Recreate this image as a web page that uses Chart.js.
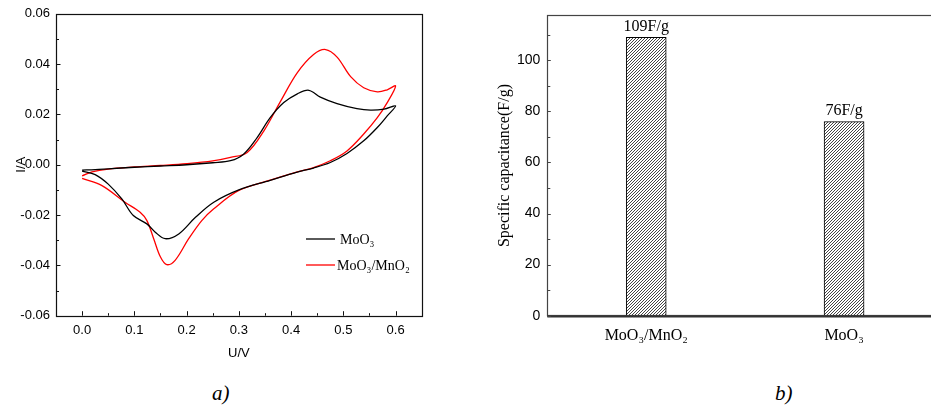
<!DOCTYPE html>
<html>
<head>
<meta charset="utf-8">
<script src="https://cdn.jsdelivr.net/npm/chart.js@4/dist/chart.umd.min.js"></script>
<style>
html,body{margin:0;padding:0;background:#fff;overflow:hidden;width:931px;height:410px;position:relative;}
#wrapA{position:absolute;left:0;top:0;width:440px;height:370px;}
#wrapB{position:absolute;left:440px;top:0;width:520px;height:370px;}
.cap{position:absolute;font-family:"Liberation Serif","Times New Roman",serif;font-style:italic;font-size:21px;color:#000;line-height:24px;}
</style>
</head>
<body>
<div id="wrapA"><canvas id="cA" width="440" height="370"></canvas></div>
<div id="wrapB"><canvas id="cB" width="520" height="370"></canvas></div>
<div class="cap" style="left:212px;top:381px">a)</div>
<div class="cap" style="left:775px;top:381px">b)</div>
<script>
// ---------- DATA ----------
// Panel a: cyclic voltammetry loops (forward scan then reverse scan)
const moo3Voltage = [0, 0.025, 0.05, 0.1, 0.15, 0.2, 0.25, 0.284, 0.309, 0.335, 0.36, 0.386, 0.412, 0.434, 0.456, 0.488, 0.526, 0.552, 0.578, 0.6,
  0.584, 0.565, 0.539, 0.507, 0.475, 0.443, 0.41, 0.36, 0.3, 0.252, 0.217, 0.185, 0.159, 0.14, 0.124, 0.098, 0.076, 0.05, 0.025, 0];
const moo3Current = [-0.0021, -0.0019, -0.0016, -0.0010, -0.0005, 0.0000, 0.0008, 0.0016, 0.0042, 0.0108, 0.0187, 0.0247, 0.0282, 0.0296, 0.0269, 0.0243, 0.0223, 0.0217, 0.0221, 0.0234,
  0.0194, 0.0148, 0.0095, 0.0045, 0.0009, -0.0013, -0.0030, -0.0062, -0.0100, -0.0149, -0.0209, -0.0275, -0.0294, -0.0268, -0.0235, -0.0202, -0.0136, -0.0077, -0.0039, -0.0025];
const compositeVoltage = [0, 0.019, 0.05, 0.1, 0.15, 0.2, 0.25, 0.284, 0.316, 0.348, 0.38, 0.412, 0.443, 0.466, 0.488, 0.514, 0.539, 0.565, 0.584, 0.6,
  0.584, 0.565, 0.539, 0.507, 0.475, 0.443, 0.412, 0.36, 0.3, 0.252, 0.229, 0.204, 0.178, 0.162, 0.15, 0.137, 0.124, 0.111, 0.082, 0.038, 0];
const compositeCurrent = [-0.0044, -0.0028, -0.0017, -0.0009, -0.0003, 0.0004, 0.0015, 0.0029, 0.0049, 0.0135, 0.0253, 0.0366, 0.0438, 0.0458, 0.0428, 0.0350, 0.0306, 0.0290, 0.0298, 0.0313,
  0.0247, 0.0187, 0.0122, 0.0055, 0.0016, -0.0011, -0.0028, -0.0061, -0.0102, -0.0175, -0.0222, -0.0294, -0.0380, -0.0397, -0.0367, -0.0294, -0.0222, -0.0189, -0.0149, -0.0083, -0.0054];
const seriesNames = ['MoO\u2083', 'MoO\u2083/MnO\u2082'];
const cvXTicks = [0, 0.1, 0.2, 0.3, 0.4, 0.5, 0.6];
const cvYTicks = [-0.06, -0.04, -0.02, 0, 0.02, 0.04, 0.06];

// Panel b: specific capacitance
const barCategories = ['MoO\u2083/MnO\u2082', 'MoO\u2083'];
const capacitanceValues = [109, 76];
const capacitanceLabels = ['109F/g', '76F/g'];
const barYTicks = [0, 20, 40, 60, 80, 100];

// ---------- STYLE ----------
const SANS = '"Liberation Sans", Arial, sans-serif';
const SERIF = '"Liberation Serif", "Times New Roman", serif';

function toPoints(xs, ys) { return xs.map((x, i) => ({x: x, y: ys[i]})); }

// frame + inward ticks plugin
const framePlugin = {
  id: 'framePlugin',
  afterDatasetsDraw(chart, args, opts) {
    const {ctx, chartArea: a} = chart;
    ctx.save();
    ctx.strokeStyle = opts.color;
    ctx.lineWidth = opts.width;
    ctx.strokeRect(Math.round(a.left) + 0.5, Math.round(a.top) + 0.5, Math.round(a.right - a.left), Math.round(a.bottom - a.top));
    if (opts.bottomWidth) {
      ctx.lineWidth = opts.bottomWidth;
      ctx.strokeStyle = opts.bottomColor;
      ctx.beginPath();
      ctx.moveTo(a.left, Math.round(a.bottom) + 0.5);
      ctx.lineTo(a.right, Math.round(a.bottom) + 0.5);
      ctx.stroke();
    }
    ctx.strokeStyle = opts.color;
    ctx.lineWidth = 1;
    for (const ax of opts.axes) {
      const sc = chart.scales[ax.id];
      const vals = sc.ticks.map(t => t.value);
      const minors = [];
      for (let i = 0; i < vals.length - 1; i++) minors.push((vals[i] + vals[i + 1]) / 2);
      if (vals.length > 1) {
        const st = vals[1] - vals[0];
        const lo = vals[0] - st / 2, hi = vals[vals.length - 1] + st / 2;
        if (lo > sc.min + st * 0.05) minors.push(lo);
        if (hi < sc.max - st * 0.05) minors.push(hi);
      }
      const draw = (v, len) => {
        const p = Math.round(sc.getPixelForValue(v)) + 0.5;
        ctx.beginPath();
        if (ax.dir === 'y') { ctx.moveTo(a.left, p); ctx.lineTo(a.left + len, p); }
        else { ctx.moveTo(p, a.bottom); ctx.lineTo(p, a.bottom - len); }
        ctx.stroke();
      };
      vals.forEach(v => draw(v, ax.major));
      minors.forEach(v => draw(v, ax.minor));
    }
    ctx.restore();
  }
};

// legend for panel a
const cvLegend = {
  id: 'cvLegend',
  afterDraw(chart, args, opts) {
    const {ctx} = chart;
    ctx.save();
    chart.data.datasets.forEach((ds, i) => {
      const y = opts.y + i * opts.gap;
      ctx.strokeStyle = ds.borderColor;
      ctx.lineWidth = 1.3;
      ctx.beginPath();
      ctx.moveTo(opts.x, y);
      ctx.lineTo(opts.x + opts.len, y);
      ctx.stroke();
      ctx.fillStyle = '#000';
      ctx.font = '14px ' + SERIF;
      ctx.textBaseline = 'middle';
      ctx.textAlign = 'left';
      ctx.fillText(ds.label, opts.x + opts.len + opts.textGap[i], y + 1);
    });
    ctx.restore();
  }
};

// value labels for panel b
const barValueLabels = {
  id: 'barValueLabels',
  afterDatasetsDraw(chart) {
    const {ctx} = chart;
    const meta = chart.getDatasetMeta(0);
    ctx.save();
    ctx.fillStyle = '#000';
    ctx.font = '16px ' + SERIF;
    ctx.textAlign = 'center';
    ctx.textBaseline = 'middle';
    meta.data.forEach((bar, i) => {
      ctx.fillText(capacitanceLabels[i], bar.x, bar.y - 11);
    });
    ctx.restore();
  }
};

function hatchPattern() {
  const s = 3;
  const c = document.createElement('canvas');
  c.width = s; c.height = s;
  const g = c.getContext('2d');
  g.fillStyle = '#ffffff';
  g.fillRect(0, 0, s, s);
  g.strokeStyle = '#303030';
  g.lineWidth = 0.9;
  g.beginPath();
  g.moveTo(-1, s + 1); g.lineTo(s + 1, -1);
  g.moveTo(-1, 1); g.lineTo(1, -1);
  g.moveTo(s - 1, s + 1); g.lineTo(s + 1, s - 1);
  g.stroke();
  return g.createPattern(c, 'repeat');
}

// ---------- PANEL A ----------
new Chart(document.getElementById('cA'), {
  type: 'scatter',
  data: {
    datasets: [
      {label: seriesNames[0], data: toPoints(moo3Voltage, moo3Current), borderColor: '#000000', backgroundColor: '#000000'},
      {label: seriesNames[1], data: toPoints(compositeVoltage, compositeCurrent), borderColor: '#ff0000', backgroundColor: '#ff0000'}
    ]
  },
  options: {
    responsive: false,
    animation: false,
    showLine: true,
    elements: {
      point: {radius: 0, hoverRadius: 0},
      line: {borderWidth: 1.3, tension: 0.35, fill: false}
    },
    layout: {padding: {left: 0, right: 18.3, top: 12.7, bottom: 0}},
    plugins: {
      legend: {display: false},
      tooltip: {enabled: false},
      framePlugin: {color: '#111', width: 1.2, axes: [
        {id: 'x', dir: 'x', major: 4.5, minor: 2.5},
        {id: 'y', dir: 'y', major: 4.5, minor: 3}
      ]},
      cvLegend: {x: 306, y: 239, gap: 26, len: 29, textGap: [5, 2]}
    },
    scales: {
      x: {
        type: 'linear', min: -0.05, max: 0.65,
        afterBuildTicks: s => { s.ticks = cvXTicks.map(v => ({value: v})); },
        afterFit: s => { s.height = 54.3; },
        grid: {display: false, drawTicks: false},
        border: {display: false},
        ticks: {callback: v => Number(v).toFixed(1), color: '#000', font: {family: SANS, size: 13}, padding: 7, maxRotation: 0, autoSkip: false},
        title: {display: true, text: 'U/V', color: '#000', font: {family: SANS, size: 13}, padding: {top: 0, bottom: 9}}
      },
      y: {
        type: 'linear', min: -0.06, max: 0.06,
        afterBuildTicks: s => { s.ticks = cvYTicks.map(v => ({value: v})); },
        afterFit: s => { s.width = 56; },
        grid: {display: false, drawTicks: false},
        border: {display: false},
        ticks: {callback: v => Number(v).toFixed(2), color: '#000', font: {family: SANS, size: 13}, padding: 6, autoSkip: false},
        title: {display: true, text: 'I/A', color: '#000', font: {family: SANS, size: 13}, padding: {top: 14, bottom: 0}}
      }
    }
  },
  plugins: [framePlugin, cvLegend]
});

// ---------- PANEL B ----------
new Chart(document.getElementById('cB'), {
  type: 'bar',
  data: {
    labels: barCategories,
    datasets: [{
      label: 'Specific capacitance',
      data: capacitanceValues,
      backgroundColor: hatchPattern(),
      borderColor: '#000000',
      borderWidth: 1,
      borderSkipped: false,
      barThickness: 40
    }]
  },
  options: {
    responsive: false,
    animation: false,
    layout: {padding: {left: 0, right: 17, top: 12.7, bottom: 0}},
    plugins: {
      legend: {display: false},
      tooltip: {enabled: false},
      framePlugin: {color: '#444', width: 1.2, bottomWidth: 2, bottomColor: '#333', axes: [
        {id: 'y', dir: 'y', major: 3.5, minor: 3}
      ]}
    },
    scales: {
      x: {
        type: 'category', offset: true,
        afterFit: s => { s.height = 54.3; },
        grid: {display: false, drawTicks: false},
        border: {display: false},
        ticks: {color: '#000', font: {family: SERIF, size: 16}, padding: 10, maxRotation: 0, autoSkip: false}
      },
      y: {
        type: 'linear', min: 0, max: 117.6,
        afterBuildTicks: s => { s.ticks = barYTicks.map(v => ({value: v})); },
        afterFit: s => { s.width = 107.3; },
        grid: {display: false, drawTicks: false},
        border: {display: false},
        ticks: {color: '#000', font: {family: SANS, size: 14}, padding: 7, autoSkip: false},
        title: {display: true, text: 'Specific capacitance(F/g)', color: '#000', font: {family: SERIF, size: 16}, padding: {top: 55, bottom: 0}}
      }
    }
  },
  plugins: [framePlugin, barValueLabels]
});
</script>
</body>
</html>
